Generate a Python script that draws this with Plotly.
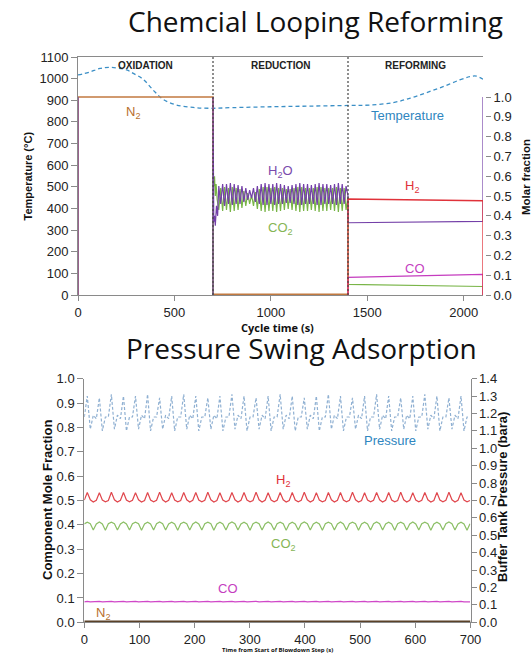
import plotly.graph_objects as go

# ------------------------------------------------------------------
# Chemical looping reforming cycle (temperature + outlet molar fractions)
# ------------------------------------------------------------------
phase_names = ["OXIDATION", "REDUCTION", "REFORMING"]
phase_bounds = [0, 700, 1400, 2100]

temp_t = [0, 60, 114, 170, 252, 287, 338, 390, 442, 511, 597, 683, 800, 1000,
          1200, 1400, 1513, 1633, 1720, 1806, 1893, 1979, 2031, 2065, 2100]
temp_c = [1017, 1030, 1047, 1052, 1040, 1024, 997, 947, 904, 878, 867, 863, 866, 870,
          873, 876, 878, 889, 909, 935, 963, 994, 1009, 1012, 997]

n2_t = [0, 0, 700, 700, 1400]
n2_y = [0.0, 1.0, 1.0, 0.004, 0.004]

# reduction step: steam / CO2 oscillation
red_t = [730, 740, 750, 760, 770, 780, 790, 800, 810, 820, 830, 840, 850, 860, 870,
         880, 890, 900, 910, 920, 930, 940, 950, 960, 970, 980, 990, 1000, 1010,
         1020, 1030, 1040, 1050, 1060, 1070, 1080, 1090, 1100, 1110, 1120, 1130,
         1140, 1150, 1160, 1170, 1180, 1190, 1200, 1210, 1220, 1230, 1240, 1250,
         1260, 1270, 1280, 1290, 1300, 1310, 1320, 1330, 1340, 1350, 1360, 1370,
         1380, 1390]
red_h2o = [0.55, 0.46, 0.56, 0.45, 0.56, 0.46, 0.565, 0.455, 0.56, 0.46, 0.555, 0.46,
           0.55, 0.47, 0.54, 0.48, 0.53, 0.49, 0.54, 0.47, 0.55, 0.46, 0.56, 0.455,
           0.565, 0.455, 0.56, 0.46, 0.56, 0.455, 0.565, 0.46, 0.56, 0.46, 0.555,
           0.465, 0.55, 0.465, 0.555, 0.46, 0.56, 0.455, 0.565, 0.455, 0.56, 0.46,
           0.56, 0.46, 0.555, 0.46, 0.56, 0.455, 0.565, 0.455, 0.56, 0.46, 0.56,
           0.46, 0.555, 0.46, 0.56, 0.455, 0.565, 0.46, 0.56, 0.46, 0.55]
red_co2 = [0.43, 0.54, 0.425, 0.545, 0.43, 0.54, 0.42, 0.545, 0.425, 0.54, 0.43, 0.535,
           0.44, 0.525, 0.45, 0.515, 0.46, 0.505, 0.45, 0.52, 0.435, 0.535, 0.425,
           0.545, 0.42, 0.545, 0.425, 0.54, 0.425, 0.545, 0.42, 0.54, 0.425, 0.54,
           0.43, 0.535, 0.435, 0.535, 0.43, 0.54, 0.425, 0.545, 0.42, 0.545, 0.425,
           0.54, 0.425, 0.54, 0.43, 0.54, 0.425, 0.545, 0.42, 0.545, 0.425, 0.54,
           0.425, 0.54, 0.43, 0.54, 0.425, 0.545, 0.42, 0.54, 0.425, 0.54, 0.43]

# steam is off during oxidation: the trace is broken there (None) rather than drawn on the axis
h2o_t = [0, 0, None, 700, 700, 704, 708, 712, 718, 724] + red_t + [1400, 1400, 2100, 2100]
h2o_y = [1.0, 0.0, None, 0.0, 1.0, 0.37, 0.40, 0.35, 0.45, 0.40] + red_h2o + [0.50, 0.365, 0.372, 1.0]

co2_t = [700, 700, 704, 708, 712, 716, 722] + red_t + [1400, 1400, 2100, 2100]
co2_y = [0.0, 0.63, 0.55, 0.60, 0.50, 0.56, 0.48] + red_co2 + [0.50, 0.054, 0.043, 0.0]

h2_t = [1400, 1400, 2100, 2100]
h2_y = [0.0, 0.485, 0.476, 0.0]

co_t = [1400, 1400, 2100, 2100]
co_y = [0.0, 0.089, 0.104, 0.0]

temp_ticks = [0, 100, 200, 300, 400, 500, 600, 700, 800, 900, 1000, 1100]
frac_ticks = [0.0, 0.1, 0.2, 0.3, 0.4, 0.5, 0.6, 0.7, 0.8, 0.9, 1.0]
cycle_ticks = [0, 500, 1000, 1500, 2000]
frac_full_scale_temp = 915   # temperature that lines up with molar fraction 1.0

# ------------------------------------------------------------------
# Pressure swing adsorption (blowdown step outlet)
# ------------------------------------------------------------------
psa_t = [0.0,
         5.4, 10.9, 16.3, 21.8, 27.3, 32.7, 38.2, 43.6, 49.1, 54.6, 60.0, 65.5,
         71.0, 76.4, 81.9, 87.3, 92.8, 98.3, 103.7, 109.2, 114.7, 120.1, 125.6, 131.0,
         136.5, 142.0, 147.4, 152.9, 158.4, 163.8, 169.3, 174.7, 180.2, 185.7, 191.1, 196.6,
         202.1, 207.5, 213.0, 218.4, 223.9, 229.4, 234.8, 240.3, 245.8, 251.2, 256.7, 262.1,
         267.6, 273.1, 278.5, 284.0, 289.5, 294.9, 300.4, 305.8, 311.3, 316.8, 322.2, 327.7,
         333.2, 338.6, 344.1, 349.5, 355.0, 360.5, 365.9, 371.4, 376.9, 382.3, 387.8, 393.2,
         398.7, 404.2, 409.6, 415.1, 420.6, 426.0, 431.5, 436.9, 442.4, 447.9, 453.3, 458.8,
         464.3, 469.7, 475.2, 480.6, 486.1, 491.6, 497.0, 502.5, 508.0, 513.4, 518.9, 524.3,
         529.8, 535.3, 540.7, 546.2, 551.7, 557.1, 562.6, 568.0, 573.5, 579.0, 584.4, 589.9,
         595.4, 600.8, 606.3, 611.7, 617.2, 622.7, 628.1, 633.6, 639.1, 644.5, 650.0, 655.4,
         660.9, 666.4, 671.8, 677.3, 682.8, 688.2, 693.7, 699.1]

psa_pressure = [1.18,
                1.30, 1.11, 1.19, 1.17, 1.29, 1.10, 1.18, 1.18, 1.31, 1.11, 1.19, 1.17,
                1.30, 1.10, 1.18, 1.18, 1.30, 1.11, 1.19, 1.17, 1.31, 1.10, 1.18, 1.18,
                1.29, 1.11, 1.19, 1.17, 1.30, 1.10, 1.18, 1.18, 1.31, 1.11, 1.19, 1.17,
                1.30, 1.10, 1.18, 1.18, 1.29, 1.11, 1.19, 1.17, 1.30, 1.10, 1.18, 1.18,
                1.31, 1.11, 1.19, 1.17, 1.30, 1.10, 1.18, 1.18, 1.29, 1.11, 1.19, 1.17,
                1.30, 1.10, 1.18, 1.18, 1.31, 1.11, 1.19, 1.17, 1.30, 1.10, 1.18, 1.18,
                1.29, 1.11, 1.19, 1.17, 1.30, 1.10, 1.18, 1.18, 1.31, 1.11, 1.19, 1.17,
                1.30, 1.10, 1.18, 1.18, 1.29, 1.11, 1.19, 1.17, 1.30, 1.10, 1.18, 1.18,
                1.31, 1.11, 1.19, 1.17, 1.30, 1.10, 1.18, 1.18, 1.29, 1.11, 1.19, 1.17,
                1.30, 1.10, 1.18, 1.18, 1.31, 1.11, 1.19, 1.17, 1.30, 1.10, 1.18, 1.18,
                1.29, 1.11, 1.19, 1.17, 1.30, 1.10, 1.18, 1.18]

psa_h2 = [0.502,
          0.533, 0.503, 0.494, 0.501, 0.532, 0.502, 0.495, 0.500, 0.534, 0.503, 0.494, 0.501,
          0.533, 0.502, 0.495, 0.501, 0.532, 0.503, 0.494, 0.500, 0.533, 0.502, 0.495, 0.501,
          0.534, 0.503, 0.494, 0.501, 0.532, 0.502, 0.495, 0.500, 0.533, 0.503, 0.494, 0.501,
          0.533, 0.502, 0.495, 0.501, 0.534, 0.503, 0.494, 0.500, 0.532, 0.502, 0.495, 0.501,
          0.533, 0.503, 0.494, 0.501, 0.533, 0.502, 0.495, 0.500, 0.534, 0.503, 0.494, 0.501,
          0.532, 0.502, 0.495, 0.501, 0.533, 0.503, 0.494, 0.500, 0.533, 0.502, 0.495, 0.501,
          0.534, 0.503, 0.494, 0.501, 0.532, 0.502, 0.495, 0.500, 0.533, 0.503, 0.494, 0.501,
          0.533, 0.502, 0.495, 0.501, 0.534, 0.503, 0.494, 0.500, 0.532, 0.502, 0.495, 0.501,
          0.533, 0.503, 0.494, 0.501, 0.533, 0.502, 0.495, 0.500, 0.534, 0.503, 0.494, 0.501,
          0.532, 0.502, 0.495, 0.501, 0.533, 0.503, 0.494, 0.500, 0.533, 0.502, 0.495, 0.501,
          0.534, 0.503, 0.494, 0.501, 0.532, 0.502, 0.495, 0.500]

psa_co2 = [0.404,
           0.411, 0.405, 0.379, 0.404, 0.412, 0.404, 0.378, 0.405, 0.411, 0.405, 0.379, 0.404,
           0.412, 0.404, 0.379, 0.405, 0.411, 0.405, 0.378, 0.404, 0.411, 0.404, 0.379, 0.405,
           0.412, 0.405, 0.379, 0.404, 0.411, 0.404, 0.378, 0.405, 0.411, 0.405, 0.379, 0.404,
           0.412, 0.404, 0.379, 0.405, 0.411, 0.405, 0.378, 0.404, 0.411, 0.404, 0.379, 0.405,
           0.412, 0.405, 0.379, 0.404, 0.411, 0.404, 0.378, 0.405, 0.411, 0.405, 0.379, 0.404,
           0.412, 0.404, 0.379, 0.405, 0.411, 0.405, 0.378, 0.404, 0.411, 0.404, 0.379, 0.405,
           0.412, 0.405, 0.379, 0.404, 0.411, 0.404, 0.378, 0.405, 0.411, 0.405, 0.379, 0.404,
           0.412, 0.404, 0.379, 0.405, 0.411, 0.405, 0.378, 0.404, 0.411, 0.404, 0.379, 0.405,
           0.412, 0.405, 0.379, 0.404, 0.411, 0.404, 0.378, 0.405, 0.411, 0.405, 0.379, 0.404,
           0.412, 0.404, 0.379, 0.405, 0.411, 0.405, 0.378, 0.404, 0.411, 0.404, 0.379, 0.405,
           0.412, 0.405, 0.379, 0.404, 0.411, 0.404, 0.378, 0.405]

psa_co = [0.084,
          0.086, 0.084, 0.085, 0.084, 0.086, 0.084, 0.085, 0.084, 0.086, 0.084, 0.085, 0.084,
          0.086, 0.084, 0.085, 0.084, 0.086, 0.084, 0.085, 0.084, 0.086, 0.084, 0.085, 0.084,
          0.086, 0.084, 0.085, 0.084, 0.086, 0.084, 0.085, 0.084, 0.086, 0.084, 0.085, 0.084,
          0.086, 0.084, 0.085, 0.084, 0.086, 0.084, 0.085, 0.084, 0.086, 0.084, 0.085, 0.084,
          0.086, 0.084, 0.085, 0.084, 0.086, 0.084, 0.085, 0.084, 0.086, 0.084, 0.085, 0.084,
          0.086, 0.084, 0.085, 0.084, 0.086, 0.084, 0.085, 0.084, 0.086, 0.084, 0.085, 0.084,
          0.086, 0.084, 0.085, 0.084, 0.086, 0.084, 0.085, 0.084, 0.086, 0.084, 0.085, 0.084,
          0.086, 0.084, 0.085, 0.084, 0.086, 0.084, 0.085, 0.084, 0.086, 0.084, 0.085, 0.084,
          0.086, 0.084, 0.085, 0.084, 0.086, 0.084, 0.085, 0.084, 0.086, 0.084, 0.085, 0.084,
          0.086, 0.084, 0.085, 0.084, 0.086, 0.084, 0.085, 0.084, 0.086, 0.084, 0.085, 0.084,
          0.086, 0.084, 0.085, 0.084, 0.086, 0.084, 0.085, 0.084]

psa_n2_t = [0, 700]
psa_n2 = [0.003, 0.003]

psa_time_ticks = [0, 100, 200, 300, 400, 500, 600, 700]
psa_frac_ticks = [0.0, 0.1, 0.2, 0.3, 0.4, 0.5, 0.6, 0.7, 0.8, 0.9, 1.0]
psa_press_ticks = [0.0, 0.1, 0.2, 0.3, 0.4, 0.5, 0.6, 0.7, 0.8, 0.9, 1.0, 1.1, 1.2, 1.3, 1.4]

# ------------------------------------------------------------------
# Styling
# ------------------------------------------------------------------
W, H = 531, 656
TICK_FONT = dict(family="Liberation Sans, Arial, sans-serif", size=13, color="#222222")
AX_COLOR = "#8a8a8a"

TEMP_BLUE = "#3b8fc6"
N2_BROWN = "#c27a40"
H2O_PURPLE = "#7440a8"
CO2_GREEN = "#79b548"
H2_RED = "#e0323a"
CO_MAGENTA = "#c53dbf"

P_BLUE = "#8fb0d2"
P_H2 = "#e0474d"
P_CO2 = "#8cbf66"
P_CO = "#d048c8"
P_N2 = "#5a4128"


def px_x(p):
    return p / W


def px_y(p):
    return 1 - p / H


fig = go.Figure()

# top panel traces
fig.add_trace(go.Scatter(x=temp_t, y=temp_c, mode="lines", xaxis="x", yaxis="y",
                         line=dict(color=TEMP_BLUE, width=1.3, dash="4px,3px", shape="spline", smoothing=1.0)))
fig.add_trace(go.Scatter(x=n2_t, y=n2_y, mode="lines", xaxis="x", yaxis="y2",
                         line=dict(color=N2_BROWN, width=1.6)))
fig.add_trace(go.Scatter(x=co2_t, y=co2_y, mode="lines", xaxis="x", yaxis="y2",
                         line=dict(color=CO2_GREEN, width=1.2)))
fig.add_trace(go.Scatter(x=h2o_t, y=h2o_y, mode="lines", xaxis="x", yaxis="y2", connectgaps=False,
                         line=dict(color=H2O_PURPLE, width=1.2)))
fig.add_trace(go.Scatter(x=co_t, y=co_y, mode="lines", xaxis="x", yaxis="y2",
                         line=dict(color=CO_MAGENTA, width=1.3)))
fig.add_trace(go.Scatter(x=h2_t, y=h2_y, mode="lines", xaxis="x", yaxis="y2",
                         line=dict(color=H2_RED, width=1.3)))

# bottom panel traces
fig.add_trace(go.Scatter(x=psa_t, y=psa_pressure, mode="lines", xaxis="x2", yaxis="y4",
                         line=dict(color=P_BLUE, width=1.2, dash="3px,2px")))
fig.add_trace(go.Scatter(x=psa_t, y=psa_h2, mode="lines", xaxis="x2", yaxis="y3",
                         line=dict(color=P_H2, width=1.2)))
fig.add_trace(go.Scatter(x=psa_t, y=psa_co2, mode="lines", xaxis="x2", yaxis="y3",
                         line=dict(color=P_CO2, width=1.2)))
fig.add_trace(go.Scatter(x=psa_t, y=psa_co, mode="lines", xaxis="x2", yaxis="y3",
                         line=dict(color=P_CO, width=1.2)))
fig.add_trace(go.Scatter(x=psa_n2_t, y=psa_n2, mode="lines", xaxis="x2", yaxis="y3",
                         line=dict(color=P_N2, width=2.2)))

# phase separators
shapes = []
for b in phase_bounds[1:-1]:
    shapes.append(dict(type="line", xref="x", yref="y", x0=b, x1=b, y0=0, y1=temp_ticks[-1],
                       line=dict(color="#444444", width=1.2, dash="2px,2px")))

annotations = []


def note(x, y, text, font, xref="paper", yref="paper", angle=0):
    annotations.append(dict(x=x, y=y, xref=xref, yref=yref, text=text, showarrow=False,
                            xanchor="center", yanchor="middle", textangle=angle, font=font))


for i, name in enumerate(phase_names):
    note((phase_bounds[i] + phase_bounds[i + 1]) / 2, 1063, f"<b>{name}</b>",
         dict(family="Liberation Sans, Arial", size=10, color="#222222"), "x", "y")


def label(x, y, text, color, xref, yref, size=13):
    note(x, y, text, dict(family="Liberation Sans, Arial", size=size, color=color), xref, yref)


label(284, 0.924, "N<sub>2</sub>", "#b8702f", "x", "y2")
label(1050, 0.626, "H<sub>2</sub>O", "#7a4aac", "x", "y2")
label(1050, 0.338, "CO<sub>2</sub>", "#86b555", "x", "y2")
label(1711, 0.909, "Temperature", "#2f86c0", "x", "y2")
label(1730, 0.547, "H<sub>2</sub>", "#e0303a", "x", "y2")
label(1748, 0.135, "CO", "#c53dbf", "x", "y2")

label(554, 0.745, "Pressure", "#2f86c0", "x2", "y3")
label(360, 0.584, "H<sub>2</sub>", "#e0303a", "x2", "y3")
label(361, 0.321, "CO<sub>2</sub>", "#86b555", "x2", "y3")
label(260, 0.140, "CO", "#c53dbf", "x2", "y3")
label(34, 0.037, "N<sub>2</sub>", "#b8702f", "x2", "y3")

# panel titles
TITLE_FONT = dict(family="Open Sans, sans-serif", size=28, color="#111111")
note(px_x(315), px_y(21), "Chemcial Looping Reforming", TITLE_FONT)
note(px_x(301), px_y(348), "Pressure Swing Adsorption", TITLE_FONT)

# axis titles
AX_TITLE = dict(family="Liberation Sans, Arial", color="#111111")
note(px_x(27.5), px_y(176), "<b>Temperature (°C)</b>", dict(size=11, **AX_TITLE), angle=-90)
note(px_x(526), px_y(177), "<b>Molar fraction</b>", dict(size=11.5, **AX_TITLE), angle=-90)
note(px_x(277), px_y(327), "<b>Cycle time (s)</b>",
     dict(family="Open Sans, sans-serif", size=11, color="#111111"))
note(px_x(47), px_y(500), "<b>Component Mole Fraction</b>", dict(size=13, **AX_TITLE), angle=-90)
note(px_x(503), px_y(497), "<b>Buffer Tank Pressure (bara)</b>", dict(size=13, **AX_TITLE), angle=-90)
note(px_x(277.5), px_y(650), "<b>Time from Start of Blowdown Step (s)</b>",
     dict(family="Open Sans, sans-serif", size=6, color="#111111"))

axis_common = dict(showgrid=False, zeroline=False, tickfont=TICK_FONT, ticks="outside",
                   tickcolor=AX_COLOR, linecolor=AX_COLOR, automargin=False)
axis_noline = {k: v for k, v in axis_common.items() if k != "linecolor"}

fig.update_layout(
    width=W, height=H, autosize=False,
    margin=dict(l=0, r=0, t=0, b=0, pad=0, autoexpand=False),
    paper_bgcolor="white", plot_bgcolor="white", showlegend=False,
    shapes=shapes, annotations=annotations,
    xaxis=dict(domain=[px_x(78), px_x(483)], range=[phase_bounds[0], phase_bounds[-1]], anchor="y",
               tickvals=cycle_ticks, showline=True, mirror=True, ticklen=5, **axis_common),
    yaxis=dict(domain=[px_y(295), px_y(57)], range=[temp_ticks[0], temp_ticks[-1]], anchor="x",
               tickvals=temp_ticks, showline=True, ticklen=6, **axis_common),
    yaxis2=dict(overlaying="y", side="right", anchor="free", position=px_x(485),
                range=[0, temp_ticks[-1] / frac_full_scale_temp],
                tickvals=frac_ticks, ticktext=[f"{v:.1f}" for v in frac_ticks],
                showline=False, ticklen=5, **axis_noline),
    xaxis2=dict(domain=[px_x(84.3), px_x(470.5)], range=[psa_time_ticks[0], psa_time_ticks[-1]], anchor="y3",
                tickvals=psa_time_ticks, showline=True, ticklen=5, **axis_common),
    yaxis3=dict(domain=[px_y(622.3), px_y(378.7)], range=[psa_frac_ticks[0], psa_frac_ticks[-1]], anchor="x2",
                tickvals=psa_frac_ticks, ticktext=[f"{v:.1f}" for v in psa_frac_ticks],
                showline=True, ticklen=6, **axis_common),
    yaxis4=dict(overlaying="y3", side="right", anchor="x2",
                range=[psa_press_ticks[0], psa_press_ticks[-1]],
                tickvals=psa_press_ticks, ticktext=[f"{v:.1f}" for v in psa_press_ticks],
                showline=True, ticklen=5, **axis_common),
)

# the figure is exactly the window size, so keep the page itself margin-free
fig.write_html("out.html", config={"responsive": False, "displayModeBar": False},
               post_script="document.body.style.margin='0';document.body.style.overflow='hidden';")
